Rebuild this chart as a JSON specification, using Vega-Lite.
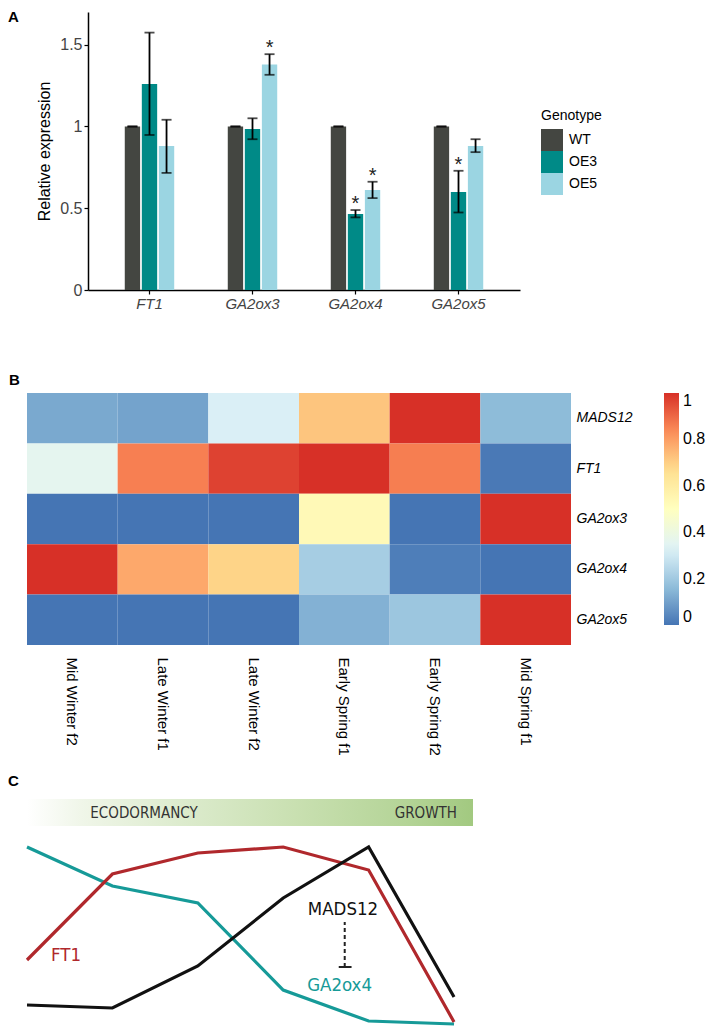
{
  "$schema": "https://vega.github.io/schema/vega-lite/v6.json",
  "background": "white",
  "padding": {"left": 8, "top": 10, "right": 0, "bottom": 0},
  "autosize": {"type": "pad"},
  "config": {
    "font": "Liberation Sans",
    "view": {"stroke": null},
    "axis": {"labelFont": "Liberation Sans", "titleFont": "Liberation Sans"},
    "legend": {"labelFont": "Liberation Sans", "titleFont": "Liberation Sans"},
    "title": {"font": "Liberation Sans"}
  },
  "datasets": {
    "expr": [
      {"gene": "FT1", "genotype": "WT", "value": 1.0, "lo": 1.0, "hi": 1.0, "sig": ""},
      {"gene": "FT1", "genotype": "OE3", "value": 1.26, "lo": 0.948, "hi": 1.574, "sig": ""},
      {"gene": "FT1", "genotype": "OE5", "value": 0.88, "lo": 0.716, "hi": 1.041, "sig": ""},
      {"gene": "GA2ox3", "genotype": "WT", "value": 1.0, "lo": 1.0, "hi": 1.0, "sig": ""},
      {"gene": "GA2ox3", "genotype": "OE3", "value": 0.985, "lo": 0.922, "hi": 1.05, "sig": ""},
      {"gene": "GA2ox3", "genotype": "OE5", "value": 1.379, "lo": 1.316, "hi": 1.442, "sig": "*"},
      {"gene": "GA2ox4", "genotype": "WT", "value": 1.0, "lo": 1.0, "hi": 1.0, "sig": ""},
      {"gene": "GA2ox4", "genotype": "OE3", "value": 0.465, "lo": 0.444, "hi": 0.489, "sig": "*"},
      {"gene": "GA2ox4", "genotype": "OE5", "value": 0.611, "lo": 0.562, "hi": 0.662, "sig": "*"},
      {"gene": "GA2ox5", "genotype": "WT", "value": 1.0, "lo": 1.0, "hi": 1.0, "sig": ""},
      {"gene": "GA2ox5", "genotype": "OE3", "value": 0.599, "lo": 0.474, "hi": 0.729, "sig": "*"},
      {"gene": "GA2ox5", "genotype": "OE5", "value": 0.881, "lo": 0.843, "hi": 0.922, "sig": ""}
    ],
    "heat": [
      {"gene": "MADS12", "stage": "Mid Winter f2", "value": 0.117},
      {"gene": "MADS12", "stage": "Late Winter f1", "value": 0.104},
      {"gene": "MADS12", "stage": "Late Winter f2", "value": 0.32},
      {"gene": "MADS12", "stage": "Early Spring f1", "value": 0.72},
      {"gene": "MADS12", "stage": "Early Spring f2", "value": 1.0},
      {"gene": "MADS12", "stage": "Mid Spring f1", "value": 0.16},
      {"gene": "FT1", "stage": "Mid Winter f2", "value": 0.36},
      {"gene": "FT1", "stage": "Late Winter f1", "value": 0.858},
      {"gene": "FT1", "stage": "Late Winter f2", "value": 0.968},
      {"gene": "FT1", "stage": "Early Spring f1", "value": 1.0},
      {"gene": "FT1", "stage": "Early Spring f2", "value": 0.86},
      {"gene": "FT1", "stage": "Mid Spring f1", "value": 0.01},
      {"gene": "GA2ox3", "stage": "Mid Winter f2", "value": 0.0},
      {"gene": "GA2ox3", "stage": "Late Winter f1", "value": 0.0},
      {"gene": "GA2ox3", "stage": "Late Winter f2", "value": 0.0},
      {"gene": "GA2ox3", "stage": "Early Spring f1", "value": 0.53},
      {"gene": "GA2ox3", "stage": "Early Spring f2", "value": 0.0},
      {"gene": "GA2ox3", "stage": "Mid Spring f1", "value": 1.0},
      {"gene": "GA2ox4", "stage": "Mid Winter f2", "value": 1.0},
      {"gene": "GA2ox4", "stage": "Late Winter f1", "value": 0.78},
      {"gene": "GA2ox4", "stage": "Late Winter f2", "value": 0.69},
      {"gene": "GA2ox4", "stage": "Early Spring f1", "value": 0.21},
      {"gene": "GA2ox4", "stage": "Early Spring f2", "value": 0.02},
      {"gene": "GA2ox4", "stage": "Mid Spring f1", "value": 0.0},
      {"gene": "GA2ox5", "stage": "Mid Winter f2", "value": 0.0},
      {"gene": "GA2ox5", "stage": "Late Winter f1", "value": 0.0},
      {"gene": "GA2ox5", "stage": "Late Winter f2", "value": 0.0},
      {"gene": "GA2ox5", "stage": "Early Spring f1", "value": 0.135},
      {"gene": "GA2ox5", "stage": "Early Spring f2", "value": 0.19},
      {"gene": "GA2ox5", "stage": "Mid Spring f1", "value": 1.0}
    ],
    "curves": [
      {"series": "GA2ox4", "t": 1, "level": 178},
      {"series": "GA2ox4", "t": 2, "level": 139},
      {"series": "GA2ox4", "t": 3, "level": 122},
      {"series": "GA2ox4", "t": 4, "level": 35},
      {"series": "GA2ox4", "t": 5, "level": 4},
      {"series": "GA2ox4", "t": 6, "level": 1},
      {"series": "FT1", "t": 1, "level": 65},
      {"series": "FT1", "t": 2, "level": 151},
      {"series": "FT1", "t": 3, "level": 172},
      {"series": "FT1", "t": 4, "level": 178},
      {"series": "FT1", "t": 5, "level": 155},
      {"series": "FT1", "t": 6, "level": 3},
      {"series": "MADS12", "t": 1, "level": 20},
      {"series": "MADS12", "t": 2, "level": 17},
      {"series": "MADS12", "t": 3, "level": 59},
      {"series": "MADS12", "t": 4, "level": 127},
      {"series": "MADS12", "t": 5, "level": 178},
      {"series": "MADS12", "t": 6, "level": 28}
    ],
    "curveLabels": [
      {"series": "FT1", "t": 1.457, "level": 70},
      {"series": "GA2ox4", "t": 4.66, "level": 40},
      {"series": "MADS12", "t": 4.70, "level": 116}
    ],
    "phases": [
      {"phase": "ECODORMANCY", "t": 2.37, "level": 212},
      {"phase": "GROWTH", "t": 5.67, "level": 212}
    ],
    "band": [{"t0": 1, "t1": 6.222, "l0": 199, "l1": 226}],
    "inhibit": [{"t": 4.72, "l0": 58, "l1": 103}],
    "bar": [{"ta": 4.65, "tb": 4.80, "l": 58}]
  },
  "spacing": 62,
  "resolve": {"scale": {"color": "independent"}, "legend": {"color": "independent"}},
  "vconcat": [
    {
      "hconcat": [
        {
          "width": 61,
          "height": 278,
          "data": {"values": []},
          "mark": {"type": "point", "opacity": 0}
        },
        {
          "width": 432,
          "height": 278,
          "title": {"text": "A", "anchor": "start", "frame": "group", "fontSize": 15, "fontWeight": "bold", "color": "black", "dx": -80, "dy": 13, "offset": 0},
          "data": {"name": "expr"},
          "encoding": {
            "x": {
              "field": "gene", "type": "nominal", "sort": ["FT1", "GA2ox3", "GA2ox4", "GA2ox5"],
              "scale": {"paddingInner": 0.52, "paddingOuter": 0.357},
              "axis": {"title": null, "labelAngle": 0, "labelFontStyle": "italic", "labelFontSize": 15, "labelColor": "#444444", "domainColor": "black", "domainWidth": 1.5, "tickColor": "black", "tickSize": 4, "tickWidth": 1.2, "labelPadding": 2}
            },
            "xOffset": {"field": "genotype", "type": "nominal", "sort": ["WT", "OE3", "OE5"], "scale": {"paddingInner": 0.1, "paddingOuter": 0}}
          },
          "layer": [
            {
              "mark": {"type": "bar"},
              "encoding": {
                "y": {
                  "field": "value", "type": "quantitative", "title": "Relative expression",
                  "scale": {"domain": [0, 1.7], "nice": false, "zero": true},
                  "axis": {"titleFontSize": 16, "titleFontWeight": "normal", "titleColor": "black", "values": [0, 0.5, 1, 1.5], "format": "~g", "labelFontSize": 16, "labelColor": "#444444", "grid": false, "domainColor": "black", "domainWidth": 1.5, "tickColor": "black", "tickSize": 4, "tickWidth": 1.2, "labelPadding": 2, "titlePadding": 7}
                },
                "color": {
                  "field": "genotype", "type": "nominal",
                  "scale": {"domain": ["WT", "OE3", "OE5"], "range": ["#444641", "#008a87", "#9bd5e2"]},
                  "legend": {"title": "Genotype", "orient": "none", "legendX": 514, "legendY": 97, "symbolType": "square", "symbolSize": 484, "symbolStrokeWidth": 0, "symbolOpacity": 1, "titleFontSize": 14, "titleFontWeight": "normal", "titleColor": "black", "labelFontSize": 14, "labelColor": "black", "rowPadding": 0, "labelOffset": 6, "titlePadding": 6, "padding": 0}
                }
              }
            },
            {
              "mark": {"type": "rule", "strokeWidth": 1.8, "color": "black"},
              "encoding": {
                "y": {"field": "lo", "type": "quantitative", "title": "Relative expression", "scale": {"domain": [0, 1.7], "nice": false, "zero": true}},
                "y2": {"field": "hi"}
              }
            },
            {
              "mark": {"type": "tick", "thickness": 1.8, "size": 10, "color": "black", "orient": "horizontal"},
              "encoding": {
                "y": {"field": "lo", "type": "quantitative", "title": "Relative expression", "scale": {"domain": [0, 1.7], "nice": false, "zero": true}}
              }
            },
            {
              "mark": {"type": "tick", "thickness": 1.8, "size": 10, "color": "black", "orient": "horizontal"},
              "encoding": {
                "y": {"field": "hi", "type": "quantitative", "title": "Relative expression", "scale": {"domain": [0, 1.7], "nice": false, "zero": true}}
              }
            },
            {
              "transform": [{"filter": "datum.sig == '*'"}],
              "mark": {"type": "text", "fontSize": 20, "baseline": "alphabetic", "dy": 0, "color": "#222222"},
              "encoding": {
                "y": {"field": "hi", "type": "quantitative", "title": "Relative expression", "scale": {"domain": [0, 1.7], "nice": false, "zero": true}},
                "text": {"field": "sig"}
              }
            }
          ]
        }
      ],
      "spacing": 0,
      "bounds": "flush"
    },
    {
      "spacing": 18,
      "resolve": {"scale": {"color": "independent"}, "legend": {"color": "independent"}},
      "vconcat": [
        {
          "width": 544,
          "height": 252,
          "title": {"text": "B", "anchor": "start", "frame": "group", "fontSize": 15, "fontWeight": "bold", "color": "black", "dx": -18, "offset": 5},
          "data": {"name": "heat"},
          "mark": {"type": "rect"},
          "encoding": {
            "x": {
              "field": "stage", "type": "nominal",
              "sort": ["Mid Winter f2", "Late Winter f1", "Late Winter f2", "Early Spring f1", "Early Spring f2", "Mid Spring f1"],
              "scale": {"paddingInner": 0, "paddingOuter": 0},
              "axis": {"title": null, "orient": "bottom", "labelAngle": 90, "ticks": false, "domain": false, "labelFontSize": 15, "labelColor": "black", "labelPadding": 12}
            },
            "y": {
              "field": "gene", "type": "nominal",
              "sort": ["MADS12", "FT1", "GA2ox3", "GA2ox4", "GA2ox5"],
              "scale": {"paddingInner": 0, "paddingOuter": 0},
              "axis": {"title": null, "orient": "right", "ticks": false, "domain": false, "labelFontSize": 14, "labelFontStyle": "italic", "labelColor": "black", "labelPadding": 5}
            },
            "color": {
              "field": "value", "type": "quantitative",
              "scale": {"domain": [0, 0.16667, 0.33333, 0.5, 0.66667, 0.83333, 1], "range": ["#4575b4", "#91bfdb", "#e0f3f8", "#ffffbf", "#fee090", "#fc8d59", "#d73027"], "interpolate": "rgb"},
              "legend": {"title": null, "orient": "none", "legendX": 637, "legendY": 0, "gradientLength": 232, "gradientThickness": 15, "gradientStrokeWidth": 0, "values": [0, 0.2, 0.4, 0.6, 0.8, 1], "format": "~g", "labelFontSize": 16, "labelColor": "black", "labelOffset": 4, "labelBaseline": "middle", "padding": 0}
            }
          }
        },
        {
          "width": 446,
          "height": 226,
          "title": {"text": "C", "anchor": "start", "frame": "group", "fontSize": 15, "fontWeight": "bold", "color": "black", "dx": -19, "offset": 10},
          "layer": [
            {
              "data": {"name": "band"},
              "mark": {"type": "rect", "color": {"gradient": "linear", "x1": 0, "y1": 0, "x2": 1, "y2": 0, "stops": [{"offset": 0, "color": "#ffffff"}, {"offset": 0.12, "color": "#f0f6e9"}, {"offset": 0.35, "color": "#dcebcd"}, {"offset": 0.6, "color": "#c9e0b1"}, {"offset": 0.85, "color": "#b4d497"}, {"offset": 1, "color": "#a2c980"}]}},
              "encoding": {
                "x": {"field": "t0", "type": "quantitative", "scale": {"domain": [1, 6.222], "nice": false, "zero": false}, "axis": null},
                "x2": {"field": "t1"},
                "y": {"field": "l0", "type": "quantitative", "scale": {"domain": [0, 226], "nice": false, "zero": false}, "axis": null},
                "y2": {"field": "l1"}
              }
            },
            {
              "data": {"name": "phases"},
              "mark": {"type": "text", "font": "Liberation Sans Narrow, DejaVu Sans Condensed, sans-serif", "fontSize": 15, "color": "#333333", "baseline": "middle", "align": "center"},
              "encoding": {
                "x": {"field": "t", "type": "quantitative", "scale": {"domain": [1, 6.222], "nice": false, "zero": false}, "axis": null},
                "y": {"field": "level", "type": "quantitative", "scale": {"domain": [0, 226], "nice": false, "zero": false}, "axis": null},
                "text": {"field": "phase"}
              }
            },
            {
              "data": {"name": "curves"},
              "mark": {"type": "line", "strokeWidth": 3.2, "strokeJoin": "miter"},
              "encoding": {
                "x": {"field": "t", "type": "quantitative", "scale": {"domain": [1, 6.222], "nice": false, "zero": false}, "axis": null},
                "y": {"field": "level", "type": "quantitative", "scale": {"domain": [0, 226], "nice": false, "zero": false}, "axis": null},
                "color": {"field": "series", "type": "nominal", "scale": {"domain": ["GA2ox4", "FT1", "MADS12"], "range": ["#169a98", "#b0282c", "#111111"]}, "legend": null},
                "detail": {"field": "series"}
              }
            },
            {
              "data": {"name": "curveLabels"},
              "mark": {"type": "text", "font": "Liberation Sans Narrow, DejaVu Sans Condensed, sans-serif", "fontSize": 18.5, "baseline": "middle", "align": "center"},
              "encoding": {
                "x": {"field": "t", "type": "quantitative", "scale": {"domain": [1, 6.222], "nice": false, "zero": false}, "axis": null},
                "y": {"field": "level", "type": "quantitative", "scale": {"domain": [0, 226], "nice": false, "zero": false}, "axis": null},
                "text": {"field": "series"},
                "color": {"field": "series", "type": "nominal", "scale": {"domain": ["GA2ox4", "FT1", "MADS12"], "range": ["#169a98", "#b0282c", "#111111"]}, "legend": null}
              }
            },
            {
              "data": {"name": "inhibit"},
              "mark": {"type": "rule", "strokeDash": [4, 3], "strokeWidth": 2, "color": "#222222"},
              "encoding": {
                "x": {"field": "t", "type": "quantitative", "scale": {"domain": [1, 6.222], "nice": false, "zero": false}, "axis": null},
                "y": {"field": "l0", "type": "quantitative", "scale": {"domain": [0, 226], "nice": false, "zero": false}, "axis": null},
                "y2": {"field": "l1"}
              }
            },
            {
              "data": {"name": "bar"},
              "mark": {"type": "rule", "strokeWidth": 2, "color": "#222222"},
              "encoding": {
                "x": {"field": "ta", "type": "quantitative", "scale": {"domain": [1, 6.222], "nice": false, "zero": false}, "axis": null},
                "x2": {"field": "tb"},
                "y": {"field": "l", "type": "quantitative", "scale": {"domain": [0, 226], "nice": false, "zero": false}, "axis": null}
              }
            }
          ]
        }
      ]
    }
  ]
}
